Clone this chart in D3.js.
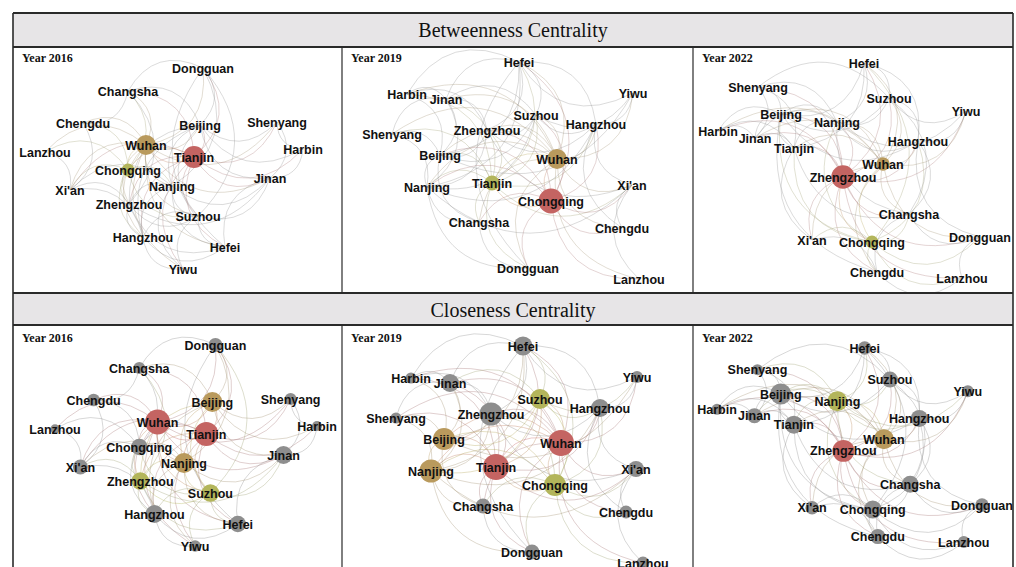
<!DOCTYPE html>
<html>
<head>
<meta charset="utf-8">
<script src="https://cdn.jsdelivr.net/npm/d3@7"></script>
<style>
  html, body { margin: 0; background: #fff; }
  svg { display: block; }
</style>
</head>
<body>
<svg id="chart" width="1016" height="567"></svg>
<script>
// ---- data -------------------------------------------------------------
const cities = ["Beijing", "Tianjin", "Shenyang", "Harbin", "Jinan", "Zhengzhou",
  "Xi'an", "Lanzhou", "Chengdu", "Chongqing", "Wuhan", "Changsha", "Nanjing",
  "Suzhou", "Hangzhou", "Hefei", "Yiwu", "Dongguan"];

const years = [2016, 2019, 2022];
const measures = ["Betweenness Centrality", "Closeness Centrality"];

// force-layout coordinates of each city (same order as `cities`)
const layout2016 = [[187,78],[181,110],[264,75],[290,102],[257,131],[116,157],[57,143],[32,105],[70,76],
  [115,123],[133,98],[115,44],[159,139],[185,169],[130,190],[212,200],[170,222],[190,21]];
const layout2019 = [[98,108],[150,136],[50,87],[65,47],[104,52],[145,83],[290,138],[297,232],[280,181],
  [209,154],[215,112],[137,175],[85,140],[194,68],[254,77],[177,15],[291,46],[186,221]];
const layout2022 = [[88,67],[101,101],[65,40],[25,84],[62,91],[150,130],[119,193],[269,231],[184,225],
  [179,195],[190,117],[216,167],[144,75],[196,51],[225,94],[171,16],[273,64],[287,190]];

// betweenness centrality (same order as `cities`)
const between2016 = [0,0.127,0,0,0,0,0,0,0,0.075,0.115,0,0,0,0,0,0,0];
const between2019 = [0,0.087,0,0,0,0,0,0,0,0.144,0.115,0,0,0,0,0,0,0];
const between2022 = [0,0,0,0,0,0.135,0,0,0,0.074,0.078,0,0,0,0,0,0,0];

// closeness centrality (same order as `cities`)
const close2016 = [0.650,0.717,0.517,0.483,0.617,0.610,0.567,0.473,0.527,0.593,0.733,0.517,0.650,0.610,0.617,0.593,0.510,0.550];
const close2019 = [0.683,0.750,0.500,0.500,0.617,0.700,0.583,0.533,0.533,0.683,0.750,0.567,0.700,0.650,0.617,0.633,0.517,0.567];
const close2022 = [0.667,0.617,0.500,0.500,0.567,0.683,0.540,0.517,0.567,0.617,0.650,0.600,0.650,0.583,0.600,0.540,0.517,0.540];

// highlighted ranking groups: first = top, second, third
const tierB2016 = [["Tianjin"], ["Wuhan"], ["Chongqing"]];
const tierB2019 = [["Chongqing"], ["Wuhan"], ["Tianjin"]];
const tierB2022 = [["Zhengzhou"], ["Wuhan"], ["Chongqing"]];
const tierC2016 = [["Wuhan", "Tianjin"], ["Beijing", "Nanjing"], ["Zhengzhou", "Suzhou"]];
const tierC2019 = [["Wuhan", "Tianjin"], ["Beijing", "Nanjing"], ["Suzhou", "Chongqing"]];
const tierC2022 = [["Zhengzhou"], ["Wuhan"], ["Nanjing"]];

// city-pair links of each year's network
const links2016 = {
  "Wuhan": ["Tianjin","Beijing","Nanjing","Chongqing","Zhengzhou","Suzhou","Hangzhou","Changsha","Chengdu","Xi'an","Dongguan","Hefei","Jinan","Shenyang","Lanzhou","Yiwu"],
  "Tianjin": ["Beijing","Nanjing","Chongqing","Zhengzhou","Suzhou","Hangzhou","Jinan","Shenyang","Harbin","Hefei","Dongguan","Changsha","Xi'an","Yiwu"],
  "Beijing": ["Nanjing","Shenyang","Harbin","Jinan","Suzhou","Zhengzhou","Dongguan","Hangzhou","Changsha"],
  "Nanjing": ["Suzhou","Hangzhou","Hefei","Zhengzhou","Chongqing","Jinan","Xi'an","Yiwu","Dongguan"],
  "Chongqing": ["Chengdu","Xi'an","Zhengzhou","Hangzhou","Changsha","Lanzhou","Suzhou"],
  "Zhengzhou": ["Xi'an","Hangzhou","Suzhou","Hefei","Jinan","Changsha"],
  "Suzhou": ["Hangzhou","Hefei","Yiwu","Jinan","Dongguan"],
  "Hangzhou": ["Yiwu","Hefei","Xi'an"],
  "Jinan": ["Harbin","Shenyang","Hefei"],
  "Dongguan": ["Changsha","Hefei"],
  "Xi'an": ["Lanzhou","Chengdu"],
  "Chengdu": ["Changsha"],
  "Shenyang": ["Harbin"]
};
const links2019 = {
  "Wuhan": ["Tianjin","Chongqing","Beijing","Nanjing","Suzhou","Zhengzhou","Hangzhou","Hefei","Jinan","Xi'an","Changsha","Chengdu","Dongguan","Yiwu","Shenyang","Harbin","Lanzhou"],
  "Tianjin": ["Chongqing","Beijing","Nanjing","Zhengzhou","Suzhou","Hefei","Jinan","Harbin","Shenyang","Changsha","Dongguan","Hangzhou","Xi'an"],
  "Chongqing": ["Chengdu","Xi'an","Lanzhou","Dongguan","Changsha","Nanjing","Beijing","Zhengzhou","Hangzhou","Suzhou","Hefei"],
  "Beijing": ["Nanjing","Shenyang","Harbin","Jinan","Zhengzhou","Suzhou","Hefei","Changsha","Yiwu"],
  "Nanjing": ["Shenyang","Suzhou","Hangzhou","Hefei","Jinan","Zhengzhou","Changsha","Dongguan","Xi'an"],
  "Zhengzhou": ["Hefei","Jinan","Suzhou","Hangzhou","Xi'an","Harbin"],
  "Suzhou": ["Hefei","Hangzhou","Yiwu","Jinan"],
  "Hangzhou": ["Yiwu","Hefei","Xi'an","Chengdu"],
  "Hefei": ["Jinan","Yiwu","Harbin","Dongguan"],
  "Jinan": ["Harbin","Shenyang"],
  "Xi'an": ["Chengdu","Lanzhou"],
  "Changsha": ["Dongguan"]
};
const links2022 = {
  "Zhengzhou": ["Wuhan","Nanjing","Beijing","Tianjin","Chongqing","Changsha","Hangzhou","Suzhou","Hefei","Jinan","Shenyang","Harbin","Xi'an","Chengdu","Dongguan","Lanzhou","Yiwu"],
  "Wuhan": ["Nanjing","Beijing","Tianjin","Chongqing","Changsha","Hangzhou","Suzhou","Hefei","Xi'an","Chengdu","Dongguan","Yiwu","Jinan","Harbin"],
  "Nanjing": ["Beijing","Tianjin","Suzhou","Hangzhou","Hefei","Jinan","Shenyang","Chongqing","Changsha","Yiwu"],
  "Beijing": ["Tianjin","Shenyang","Harbin","Jinan","Hefei","Suzhou","Chongqing","Chengdu","Hangzhou"],
  "Tianjin": ["Jinan","Harbin","Shenyang","Hefei","Chongqing","Xi'an","Changsha"],
  "Chongqing": ["Chengdu","Xi'an","Lanzhou","Changsha","Dongguan","Hangzhou","Hefei"],
  "Changsha": ["Dongguan","Chengdu","Hangzhou","Suzhou"],
  "Hangzhou": ["Suzhou","Yiwu","Hefei","Dongguan"],
  "Suzhou": ["Hefei","Yiwu","Shenyang"],
  "Jinan": ["Harbin","Shenyang"],
  "Chengdu": ["Xi'an","Lanzhou"],
  "Dongguan": ["Lanzhou"]
};

// ---- frame geometry ------------------------------------------------------
const svg = d3.select("#chart");
const colX = [13, 342, 693, 1013];
const headerBands = [[13, 47], [293, 325]];
const rowBands = [[47, 293], [325, 600]];
const tierColors = ["#c46462", "#b99a5d", "#b3b55b"];
const baseColor = "#8e8e8e";

const panels = [
  { m: 0, c: 0, year: 2016, layout: layout2016, values: between2016, tiers: tierB2016, links: links2016, xr: [32, 290], yr: [21, 222] },
  { m: 0, c: 1, year: 2019, layout: layout2019, values: between2019, tiers: tierB2019, links: links2019, xr: [50, 297], yr: [15, 232] },
  { m: 0, c: 2, year: 2022, layout: layout2022, values: between2022, tiers: tierB2022, links: links2022, xr: [25, 287], yr: [16, 231] },
  { m: 1, c: 0, year: 2016, layout: layout2016, values: close2016, tiers: tierC2016, links: links2016, xr: [42, 304], yr: [20, 221] },
  { m: 1, c: 1, year: 2019, layout: layout2019, values: close2019, tiers: tierC2019, links: links2019, xr: [54, 301], yr: [21, 238] },
  { m: 1, c: 2, year: 2022, layout: layout2022, values: close2022, tiers: tierC2022, links: links2022, xr: [24, 289], yr: [23, 217] }
];

// node radius from centrality
const rBetween = d3.scaleLinear().domain([0, 0.15]).range([0, 13]);
const rClose = d3.scaleLinear().domain([0.45, 0.75]).range([4, 13]);

// header bands
headerBands.forEach(([y0, y1], i) => {
  svg.append("rect").attr("x", colX[0]).attr("y", y0)
    .attr("width", colX[3] - colX[0]).attr("height", y1 - y0)
    .attr("fill", "#e7e5e7");
  svg.append("text")
    .attr("x", (colX[0] + colX[3]) / 2).attr("y", y0 + 24)
    .attr("text-anchor", "middle")
    .attr("font-family", "'Liberation Serif', 'Times New Roman', serif")
    .attr("font-size", 20).attr("fill", "#111")
    .text(measures[i]);
});

const defs = svg.append("defs");

panels.forEach((p, i) => {
  const x0 = colX[p.c], x1 = colX[p.c + 1];
  const [y0, y1] = rowBands[p.m];
  defs.append("clipPath").attr("id", "clip" + i)
    .append("rect").attr("x", x0).attr("y", y0).attr("width", x1 - x0).attr("height", y1 - y0);

  const g = svg.append("g").attr("clip-path", `url(#clip${i})`);
  const xs = d3.scaleLinear().domain(d3.extent(p.layout, d => d[0])).range(p.xr.map(v => v + x0));
  const ys = d3.scaleLinear().domain(d3.extent(p.layout, d => d[1])).range(p.yr.map(v => v + y0));
  const rScale = p.m === 0 ? rBetween : rClose;

  const colorOf = {};
  cities.forEach(c => colorOf[c] = baseColor);
  p.tiers.forEach((grp, t) => grp.forEach(c => colorOf[c] = tierColors[t]));

  const nodes = cities.map((name, k) => ({
    name, x: xs(p.layout[k][0]), y: ys(p.layout[k][1]), r: rScale(p.values[k]), color: colorOf[name]
  }));
  const byName = new Map(nodes.map(n => [n.name, n]));

  const edges = [];
  Object.entries(p.links).forEach(([s, list]) => list.forEach(t => edges.push([byName.get(s), byName.get(t)])));

  // curved links
  g.append("g").selectAll("path").data(edges).join("path")
    .attr("d", ([a, b]) => {
      const dx = b.x - a.x, dy = b.y - a.y;
      const k = 0.46;
      const cx = (a.x + b.x) / 2 - dy * k, cy = (a.y + b.y) / 2 + dx * k;
      return `M${a.x},${a.y}Q${cx},${cy} ${b.x},${b.y}`;
    })
    .attr("fill", "none")
    .attr("stroke", ([a, b]) => d3.interpolateRgb(a.color, b.color)(0.5))
    .attr("stroke-opacity", p.m === 0 ? 0.4 : 0.45)
    .attr("stroke-width", 0.8);

  // city nodes
  g.append("g").selectAll("circle").data(nodes.filter(n => n.r > 0)).join("circle")
    .attr("cx", d => d.x).attr("cy", d => d.y).attr("r", d => d.r)
    .attr("fill", d => d.color);

  // city labels
  g.append("g").selectAll("text").data(nodes).join("text")
    .attr("x", d => d.x).attr("y", d => d.y)
    .attr("text-anchor", "middle").attr("dy", "0.36em")
    .attr("font-family", "'Liberation Sans', Arial, sans-serif")
    .attr("font-weight", "bold").attr("font-size", 12.5).attr("fill", "#111")
    .text(d => d.name);

  // year tag
  svg.append("text")
    .attr("x", x0 + 9).attr("y", y0 + (p.m === 0 ? 15 : 17))
    .attr("font-family", "'Liberation Serif', 'Times New Roman', serif")
    .attr("font-weight", "bold").attr("font-size", 12).attr("fill", "#111")
    .text("Year " + p.year);
});

// frame lines
const line = (xa, ya, xb, yb, w) => svg.append("line")
  .attr("x1", xa).attr("y1", ya).attr("x2", xb).attr("y2", yb)
  .attr("stroke", "#2a2a2a").attr("stroke-width", w);
[13, 47, 293, 325].forEach(y => line(colX[0], y, colX[3], y, 1.8));
[colX[0], colX[3]].forEach(x => line(x, 13, x, 567, 1.6));
[colX[1], colX[2]].forEach(x => { line(x, 47, x, 293, 1.2); line(x, 325, x, 567, 1.2); });
</script>
</body>
</html>
